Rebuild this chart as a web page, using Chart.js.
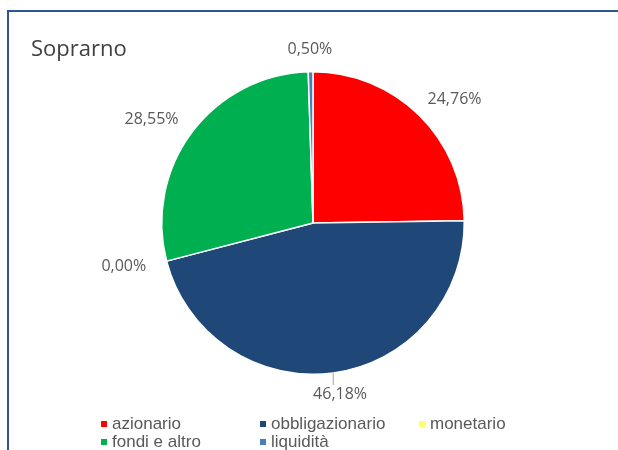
<!DOCTYPE html>
<html>
<head>
<meta charset="utf-8">
<script src="https://cdn.jsdelivr.net/npm/chart.js@4"></script>
<style>
  body { margin: 0; background: #fff; }
  canvas { display: block; }
</style>
</head>
<body>
<canvas id="myChart" width="618" height="450"></canvas>
<script>
const categories = ['azionario', 'obbligazionario', 'monetario', 'fondi e altro', 'liquidità'];
const shares = [24.76, 46.18, 0.00, 28.55, 0.50];
const sliceColors = ['#ff0000', '#1f4778', '#ffff66', '#00b050', '#4a7ebb'];
const chartTitle = 'Soprarno';

function formatPercent(v) {
  return v.toFixed(2).replace('.', ',') + '%';
}

// frame, title, percentage labels and the legend grid
const decorations = {
  id: 'decorations',
  afterDraw(chart, args, opts) {
    const ctx = chart.ctx;
    ctx.save();

    // blue frame, open on the right and bottom
    ctx.strokeStyle = '#2f5597';
    ctx.lineWidth = 2;
    ctx.beginPath();
    ctx.moveTo(8, 450);
    ctx.lineTo(8, 11);
    ctx.lineTo(618, 11);
    ctx.stroke();

    ctx.fillStyle = '#404040';
    ctx.font = '22px "Open Sans"';
    ctx.textBaseline = 'alphabetic';
    ctx.textAlign = 'left';
    ctx.fillText(chartTitle, 31, 56);

    // labels just outside each slice
    const meta = chart.getDatasetMeta(0);
    ctx.font = '16px "Open Sans"';
    ctx.textAlign = 'center';
    ctx.textBaseline = 'middle';
    meta.data.forEach((arc, i) => {
      const p = arc.getProps(['x', 'y', 'startAngle', 'endAngle', 'outerRadius'], true);
      const mid = (p.startAngle + p.endAngle) / 2;
      const text = formatPercent(shares[i]);
      const w = ctx.measureText(text).width;
      const h = 16;
      const R = p.outerRadius + opts.gap;
      const cx = p.x + R * Math.cos(mid) + 1.35 * (w / 2) * Math.cos(mid);
      const cy = p.y + R * Math.sin(mid) + (h / 2) * Math.sin(mid);
      if (opts.leaders.includes(i)) {
        const ex = p.x + p.outerRadius * Math.cos(mid);
        const ey = p.y + p.outerRadius * Math.sin(mid);
        ctx.strokeStyle = '#bfbfbf';
        ctx.lineWidth = 1.5;
        ctx.beginPath();
        ctx.moveTo(ex, ey);
        ctx.lineTo(ex, ey + 12);
        ctx.stroke();
      }
      ctx.fillStyle = '#595959';
      ctx.fillText(text, cx, cy);
    });

    // legend: three columns, two rows
    ctx.font = '17px "Liberation Sans", Arial';
    ctx.textAlign = 'left';
    categories.forEach((name, i) => {
      const col = i % 3;
      const row = Math.floor(i / 3);
      const x = opts.legendX + col * opts.legendColW;
      const y = opts.legendY + row * opts.legendRowH;
      ctx.fillStyle = sliceColors[i];
      ctx.fillRect(x, y - 3, 6, 6);
      ctx.fillStyle = '#595959';
      ctx.fillText(name, x + 11, y);
    });

    ctx.restore();
  }
};

new Chart('myChart', {
  type: 'pie',
  data: {
    labels: categories,
    datasets: [{
      data: shares,
      backgroundColor: sliceColors,
      borderColor: '#ffffff',
      borderWidth: 1.5
    }]
  },
  options: {
    responsive: false,
    animation: false,
    layout: {
      padding: { top: 71, bottom: 75, left: 161, right: 153 }
    },
    plugins: {
      legend: { display: false },
      tooltip: { enabled: false },
      decorations: {
        gap: 14,
        leaders: [1],
        legendX: 101,
        legendY: 424,
        legendColW: 159,
        legendRowH: 18
      }
    }
  },
  plugins: [decorations]
});
</script>
</body>
</html>
